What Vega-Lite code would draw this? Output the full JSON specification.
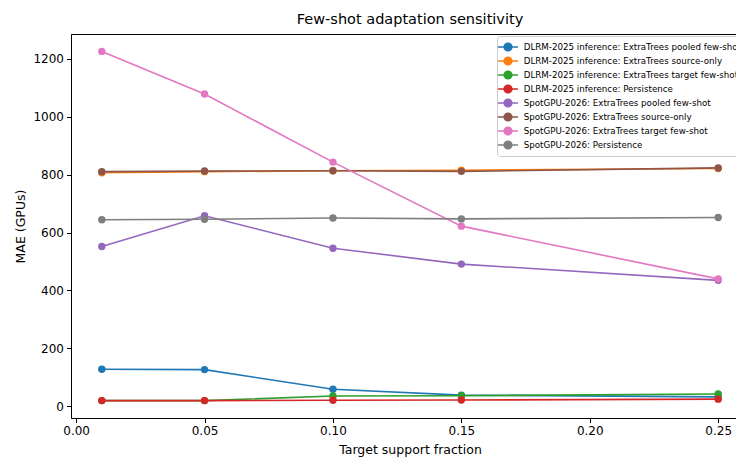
{
  "$schema": "https://vega.github.io/schema/vega-lite/v6.json",
  "width": 678,
  "height": 384,
  "autosize": {"type": "none"},
  "padding": {"left": 71, "top": 34, "right": 0, "bottom": 41},
  "background": "white",
  "title": {"text": "Few-shot adaptation sensitivity", "fontSize": 14.5, "fontWeight": "normal", "font": "DejaVu Sans", "anchor": "middle", "offset": 7, "color": "black"},
  "config": {
    "font": "DejaVu Sans",
    "view": {"stroke": "black", "strokeWidth": 1},
    "axis": {"grid": false, "domainColor": "black", "tickColor": "black", "labelColor": "black", "titleColor": "black", "labelFontSize": 12, "titleFontSize": 12.5, "titleFontWeight": "normal", "tickSize": 4.5, "labelPadding": 3}
  },
  "data": {"values": [
    {"series": "DLRM-2025 inference: ExtraTrees pooled few-shot", "x": 0.01, "y": 128},
    {"series": "DLRM-2025 inference: ExtraTrees pooled few-shot", "x": 0.05, "y": 127},
    {"series": "DLRM-2025 inference: ExtraTrees pooled few-shot", "x": 0.10, "y": 59},
    {"series": "DLRM-2025 inference: ExtraTrees pooled few-shot", "x": 0.15, "y": 39},
    {"series": "DLRM-2025 inference: ExtraTrees pooled few-shot", "x": 0.25, "y": 33},
    {"series": "DLRM-2025 inference: ExtraTrees source-only", "x": 0.01, "y": 806},
    {"series": "DLRM-2025 inference: ExtraTrees source-only", "x": 0.05, "y": 810},
    {"series": "DLRM-2025 inference: ExtraTrees source-only", "x": 0.10, "y": 813},
    {"series": "DLRM-2025 inference: ExtraTrees source-only", "x": 0.15, "y": 815},
    {"series": "DLRM-2025 inference: ExtraTrees source-only", "x": 0.25, "y": 821},
    {"series": "DLRM-2025 inference: ExtraTrees target few-shot", "x": 0.01, "y": 20},
    {"series": "DLRM-2025 inference: ExtraTrees target few-shot", "x": 0.05, "y": 20},
    {"series": "DLRM-2025 inference: ExtraTrees target few-shot", "x": 0.10, "y": 36},
    {"series": "DLRM-2025 inference: ExtraTrees target few-shot", "x": 0.15, "y": 37},
    {"series": "DLRM-2025 inference: ExtraTrees target few-shot", "x": 0.25, "y": 43},
    {"series": "DLRM-2025 inference: Persistence", "x": 0.01, "y": 20},
    {"series": "DLRM-2025 inference: Persistence", "x": 0.05, "y": 20},
    {"series": "DLRM-2025 inference: Persistence", "x": 0.10, "y": 21},
    {"series": "DLRM-2025 inference: Persistence", "x": 0.15, "y": 22},
    {"series": "DLRM-2025 inference: Persistence", "x": 0.25, "y": 25},
    {"series": "SpotGPU-2026: ExtraTrees pooled few-shot", "x": 0.01, "y": 552},
    {"series": "SpotGPU-2026: ExtraTrees pooled few-shot", "x": 0.05, "y": 658},
    {"series": "SpotGPU-2026: ExtraTrees pooled few-shot", "x": 0.10, "y": 546},
    {"series": "SpotGPU-2026: ExtraTrees pooled few-shot", "x": 0.15, "y": 491},
    {"series": "SpotGPU-2026: ExtraTrees pooled few-shot", "x": 0.25, "y": 435},
    {"series": "SpotGPU-2026: ExtraTrees source-only", "x": 0.01, "y": 810},
    {"series": "SpotGPU-2026: ExtraTrees source-only", "x": 0.05, "y": 812},
    {"series": "SpotGPU-2026: ExtraTrees source-only", "x": 0.10, "y": 813},
    {"series": "SpotGPU-2026: ExtraTrees source-only", "x": 0.15, "y": 811},
    {"series": "SpotGPU-2026: ExtraTrees source-only", "x": 0.25, "y": 823},
    {"series": "SpotGPU-2026: ExtraTrees target few-shot", "x": 0.01, "y": 1225},
    {"series": "SpotGPU-2026: ExtraTrees target few-shot", "x": 0.05, "y": 1078},
    {"series": "SpotGPU-2026: ExtraTrees target few-shot", "x": 0.10, "y": 843},
    {"series": "SpotGPU-2026: ExtraTrees target few-shot", "x": 0.15, "y": 622},
    {"series": "SpotGPU-2026: ExtraTrees target few-shot", "x": 0.25, "y": 440},
    {"series": "SpotGPU-2026: Persistence", "x": 0.01, "y": 644},
    {"series": "SpotGPU-2026: Persistence", "x": 0.05, "y": 646},
    {"series": "SpotGPU-2026: Persistence", "x": 0.10, "y": 650},
    {"series": "SpotGPU-2026: Persistence", "x": 0.15, "y": 647},
    {"series": "SpotGPU-2026: Persistence", "x": 0.25, "y": 652}
  ]},
  "encoding": {
    "x": {"field": "x", "type": "quantitative", "title": "Target support fraction",
      "scale": {"domain": [-0.002, 0.262], "nice": false, "zero": false},
      "axis": {"values": [0, 0.05, 0.1, 0.15, 0.2, 0.25], "format": ".2f", "titlePadding": 7}},
    "y": {"field": "y", "type": "quantitative", "title": "MAE (GPUs)",
      "scale": {"domain": [-40, 1285], "nice": false, "zero": false},
      "axis": {"values": [0, 200, 400, 600, 800, 1000, 1200], "format": "d", "titlePadding": 5}},
    "color": {"field": "series", "type": "nominal", "title": null,
      "scale": {
        "domain": ["DLRM-2025 inference: ExtraTrees pooled few-shot", "DLRM-2025 inference: ExtraTrees source-only", "DLRM-2025 inference: ExtraTrees target few-shot", "DLRM-2025 inference: Persistence", "SpotGPU-2026: ExtraTrees pooled few-shot", "SpotGPU-2026: ExtraTrees source-only", "SpotGPU-2026: ExtraTrees target few-shot", "SpotGPU-2026: Persistence"],
        "range": ["#1f77b4", "#ff7f0e", "#2ca02c", "#d62728", "#9467bd", "#8c564b", "#e377c2", "#7f7f7f"]},
      "legend": {"orient": "none", "legendX": 426, "legendY": 2, "labelFontSize": 8.7, "labelLimit": 400, "rowPadding": -1.6,
        "symbolType": "M-1.6,0L1.6,0M-0.62,0A0.62,0.62 0 1,1 0.62,0A0.62,0.62 0 1,1 -0.62,0Z",
        "symbolSize": 156, "symbolStrokeWidth": 1.5, "labelOffset": 8.75,
        "strokeColor": "#cccccc", "fillColor": "white", "padding": 4, "cornerRadius": 3, "labelColor": "black"}}
  },
  "layer": [
    {"mark": {"type": "line", "strokeWidth": 1.6}},
    {"mark": {"type": "point", "filled": true, "size": 55, "opacity": 1}}
  ]
}
